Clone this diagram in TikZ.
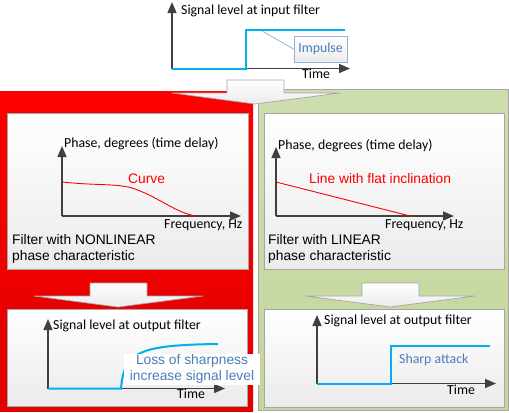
\documentclass[tikz,border=0pt]{standalone}
\usepackage{fontspec}
\setmainfont{Carlito}
\newfontfamily\arialf{Liberation Sans}
\usetikzlibrary{arrows.meta}
\definecolor{axisc}{HTML}{404040}
\definecolor{sigblue}{HTML}{00B0F0}
\definecolor{lblblue}{HTML}{4A7EBB}
\definecolor{callc}{HTML}{95B3D7}
\definecolor{redtop}{HTML}{FF0000}
\definecolor{redbot}{HTML}{E00000}
\definecolor{greentop}{HTML}{CEDDAE}
\definecolor{greenbot}{HTML}{C3D69B}
\definecolor{boxline}{HTML}{A6A6A6}
\definecolor{boxbot}{HTML}{EBEBEB}
\begin{document}
\begin{tikzpicture}[x=1bp,y=-1bp,
  txt/.style={inner sep=0pt, anchor=mid west, font=\fontsize{13.8bp}{16.5bp}\selectfont},
  atxt/.style={inner sep=0pt, anchor=mid west, font=\arialf\fontsize{13.8bp}{16bp}\selectfont},
  panel/.style={anchor=north west, inner sep=0pt, outer sep=0pt},
  innerbox/.style={panel, draw=boxline, line width=0.8bp, top color=white, bottom color=boxbot},
  blockarr/.style={draw=boxline, line width=0.7bp, top color=white, bottom color=boxbot},
  axis/.style={draw=axisc, line width=1.5bp, -{Triangle[length=11bp,width=9bp]}},
  sig/.style={draw=sigblue, line width=2bp},
  redline/.style={draw=red, line width=0.9bp}
]
\useasboundingbox (0,0) rectangle (509,412);

% panels
\node[panel, minimum width=253bp, minimum height=320bp, top color=redtop, bottom color=redbot] (redp) at (0,91) {};
\node[panel, minimum width=250bp, minimum height=321bp, draw=boxline, line width=0.8bp, top color=greentop, bottom color=greenbot] (greenp) at (258,89) {};

\node[innerbox, minimum width=241bp, minimum height=156bp] (boxTL) at (7,113) {};
\node[innerbox, minimum width=240bp, minimum height=156bp] (boxTR) at (264,113) {};
\node[innerbox, minimum width=240bp, minimum height=97bp] (boxBL) at (7,309) {};
\node[innerbox, minimum width=240bp, minimum height=98bp] (boxBR) at (264,309) {};

% block arrows
\draw[blockarr] (227,80) -- (284,80) -- (284,93) -- (340,93) -- (255,104) -- (172,93) -- (227,93) -- cycle;
\draw[blockarr] (90,283) -- (147,283) -- (147,296) -- (203,296) -- (118,307) -- (34,296) -- (90,296) -- cycle;
\draw[blockarr] (362,283) -- (419,283) -- (419,296) -- (475,296) -- (390,307) -- (306,296) -- (362,296) -- cycle;

% ---- top chart: input signal
\coordinate (o0) at (172,68.5);
\coordinate (y0) at (172,2);
\coordinate (x0) at (350,68.5);
\draw[axis] (o0) -- (y0);
\draw[axis] (o0) -- (x0);
\draw[sig] (o0) -- (246,68.5) -- (246,30) -- (345,30);
\node[txt] (tin) at (181,12) {Signal level at input filter};
\node[txt] (time0) at (302,76) {Time};
\node[draw=callc, line width=0.8bp, top color=white, bottom color=boxbot, minimum width=53bp, minimum height=26bp, inner sep=0pt, text=lblblue, font=\fontsize{13.8bp}{16bp}\selectfont] (imp) at (320.5,49) {Impulse};
\coordinate (impfoot) at (262,31);
\draw[callc, line width=0.8bp] (impfoot) -- (imp.west);

% ---- top-left chart: nonlinear phase
\coordinate (o1) at (62,216);
\draw[axis] (o1) -- (62,146);
\draw[axis] (o1) -- (241,216);
\draw[redline] (62,182) .. controls (100,186) and (118,183) .. (135,189) .. controls (160,198) and (176,213) .. (196,216);
\node[txt] (ph1) at (64,145.5) {Phase, degrees (time delay)};
\node[atxt, text=red] (curve) at (128,181) {Curve};
\node[txt] (fr1) at (164,226) {Frequency, Hz};
\node[atxt, align=left, anchor=north west] (nl) at (12,234) {Filter with NONLINEAR\\phase characteristic};

% ---- top-right chart: linear phase
\coordinate (o2) at (276,216);
\draw[axis] (o2) -- (276,147);
\draw[axis] (o2) -- (454,216);
\draw[redline] (276,182) -- (410,216);
\node[txt] (ph2) at (278,147) {Phase, degrees (time delay)};
\node[atxt, text=red] (flat) at (309,181) {Line with flat inclination};
\node[txt] (fr2) at (385,226) {Frequency, Hz};
\node[atxt, align=left, anchor=north west] (lin) at (268,234) {Filter with LINEAR\\phase characteristic};

% ---- bottom-left chart: output, nonlinear
\coordinate (o3) at (48,388.5);
\draw[axis] (o3) -- (48,319);
\draw[axis] (o3) -- (225,388.5);
\draw[sig] (o3) -- (121,388.5) .. controls (124,352) and (138,345) .. (218,344);
\node[txt] (out1) at (53,327) {Signal level at output filter};
\node[fill=white, inner sep=0pt, minimum width=136bp, minimum height=31bp, align=center, text=lblblue, font=\arialf\fontsize{13.8bp}{16bp}\selectfont] (loss) at (192,369) {Loss of sharpness\\increase signal level};
\node[txt] (time1) at (177,396) {Time};

% ---- bottom-right chart: output, linear
\coordinate (o4) at (317,383.5);
\draw[axis] (o4) -- (317,315);
\draw[axis] (o4) -- (496,383.5);
\draw[sig] (o4) -- (391,383.5) -- (391,346) -- (490,346);
\node[txt] (out2) at (324,322) {Signal level at output filter};
\node[txt, text=lblblue] (sharp) at (399,361) {Sharp attack};
\node[txt] (time2) at (447,392) {Time};
\end{tikzpicture}
\end{document}
